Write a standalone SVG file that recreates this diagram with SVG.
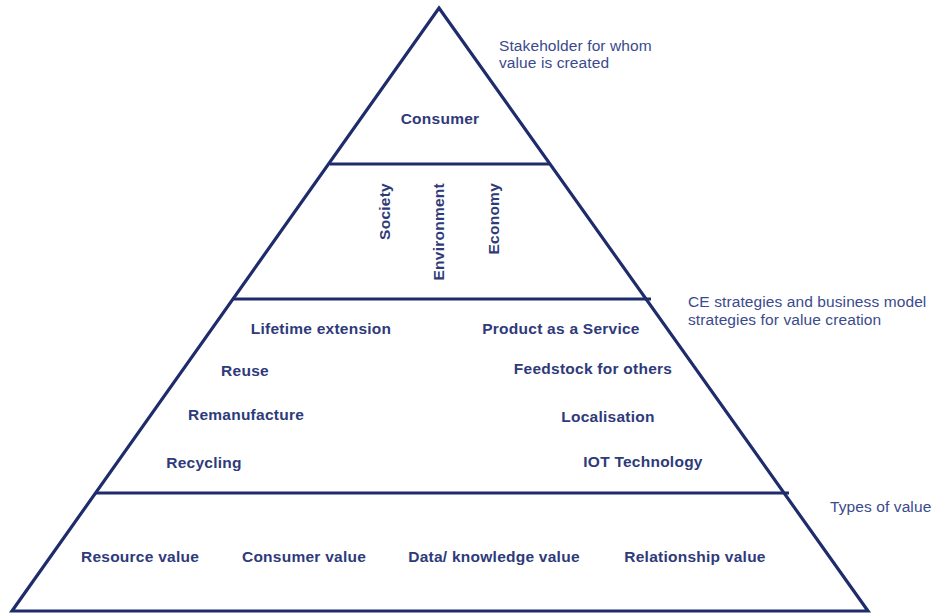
<svg xmlns="http://www.w3.org/2000/svg" width="934" height="614" viewBox="0 0 934 614">
<style>
.ln{stroke:#1f2c6c;stroke-width:3.2;fill:none;stroke-linejoin:miter}
.b{font-family:"Liberation Sans",Arial,sans-serif;font-weight:bold;font-size:15.5px;letter-spacing:0.25px;fill:#2e3a7a;text-anchor:middle}
.r{font-family:"Liberation Sans",Arial,sans-serif;font-size:15.5px;letter-spacing:0.1px;fill:#3a4a8c}
</style>
<rect width="934" height="614" fill="#ffffff"/>
<g id="connectors">
<polygon class="ln" points="439,8 868,611 12,611"/>
<line class="ln" x1="330" y1="164" x2="550" y2="164"/>
<line class="ln" x1="232" y1="299" x2="651" y2="299"/>
<line class="ln" x1="95" y1="493" x2="789" y2="493"/>
</g>
<g id="level1">
<text class="b" x="440" y="124">Consumer</text>
</g>
<g id="level2">
<text class="b" transform="translate(390,183) rotate(-90)" style="text-anchor:end">Society</text>
<text class="b" transform="translate(444,183) rotate(-90)" style="text-anchor:end">Environment</text>
<text class="b" transform="translate(499,183) rotate(-90)" style="text-anchor:end">Economy</text>
</g>
<g id="level3">
<text class="b" x="321" y="334">Lifetime extension</text>
<text class="b" x="561" y="334">Product as a Service</text>
<text class="b" x="245" y="376">Reuse</text>
<text class="b" x="593" y="374">Feedstock for others</text>
<text class="b" x="246" y="420">Remanufacture</text>
<text class="b" x="608" y="422">Localisation</text>
<text class="b" x="204" y="468">Recycling</text>
<text class="b" x="643" y="467">IOT Technology</text>
</g>
<g id="level4">
<text class="b" x="140" y="562">Resource value</text>
<text class="b" x="304" y="562">Consumer value</text>
<text class="b" x="494" y="562">Data/ knowledge value</text>
<text class="b" x="695" y="562">Relationship value</text>
</g>
<g id="labels">
<text class="r" x="499" y="51">Stakeholder for whom</text>
<text class="r" x="499" y="68">value is created</text>
<text class="r" x="688" y="307">CE strategies and business model</text>
<text class="r" x="688" y="325">strategies for value creation</text>
<text class="r" x="830" y="512">Types of value</text>
</g>
</svg>
